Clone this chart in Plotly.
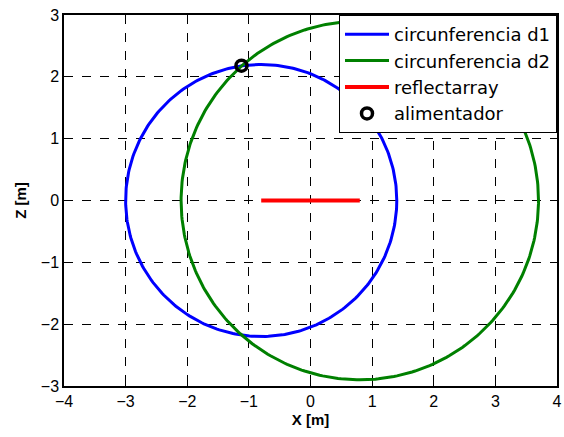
import numpy as np
import plotly.graph_objects as go

# circle definitions (center x, center z, radius) in metres
d1_center = (-0.8, 0.0)
d1_radius = 2.2
d2_center = (0.8, 0.0)
d2_radius = 2.9
# reflectarray segment
reflect_x = [-0.8, 0.8]
reflect_z = [0.0, 0.0]
# feed position
feed_x = [-1.12]
feed_z = [2.18]

x_ticks = [-4, -3, -2, -1, 0, 1, 2, 3, 4]
z_ticks = [-3, -2, -1, 0, 1, 2, 3]

t = np.linspace(0, 2 * np.pi, 361)

fig = go.Figure()
fig.add_trace(go.Scatter(x=d1_center[0] + d1_radius * np.cos(t), y=d1_center[1] + d1_radius * np.sin(t),
                         mode="lines", name="circunferencia d1", legendgroup="a",
                         line=dict(color="#0000ff", width=3)))
fig.add_trace(go.Scatter(x=d2_center[0] + d2_radius * np.cos(t), y=d2_center[1] + d2_radius * np.sin(t),
                         mode="lines", name="circunferencia d2", legendgroup="b",
                         line=dict(color="#008000", width=3)))
fig.add_trace(go.Scatter(x=reflect_x, y=reflect_z, mode="lines", name="reflectarray", legendgroup="c",
                         line=dict(color="#ff0000", width=4)))
fig.add_trace(go.Scatter(x=feed_x, y=feed_z, mode="markers", name="alimentador", legendgroup="d",
                         marker=dict(symbol="circle-open", size=11, color="black", line=dict(width=3.5))))

font = "Liberation Sans, Arial"
axis_common = dict(showgrid=True, gridcolor="black", griddash="dash", gridwidth=1,
                   showline=True, linecolor="black", linewidth=1.5, mirror="ticks",
                   ticks="inside", ticklen=5, tickcolor="black", zeroline=False,
                   automargin=False, ticklabeloverflow="allow",
                   tickfont=dict(family=font, size=16, color="black"))

fig.update_xaxes(range=[-4, 4], tickvals=x_ticks, title=dict(text="<b>X [m]</b>", standoff=6,
                 font=dict(family=font, size=15, color="black")), **axis_common)
fig.update_yaxes(range=[-3, 3], tickvals=z_ticks,
                 title=dict(text="<b>Z [m]</b>", standoff=11,
                 font=dict(family=font, size=15, color="black")), **axis_common)

fig.update_layout(width=564, height=437, margin=dict(l=64, r=7, t=15, b=51),
                  plot_bgcolor="white", paper_bgcolor="white",
                  showlegend=True,
                  legend=dict(x=1, y=1, xanchor="right", yanchor="top", bgcolor="white",
                              bordercolor="black", borderwidth=1,
                              font=dict(family="DejaVu Sans", size=18, color="black"),
                              tracegroupgap=0, itemwidth=44, entrywidth=250))

# remove the default page margin so the figure fills the window exactly
fig.write_html("out.html", config={"displayModeBar": False},
               post_script="document.body.style.margin='0';document.body.style.overflow='hidden';")
